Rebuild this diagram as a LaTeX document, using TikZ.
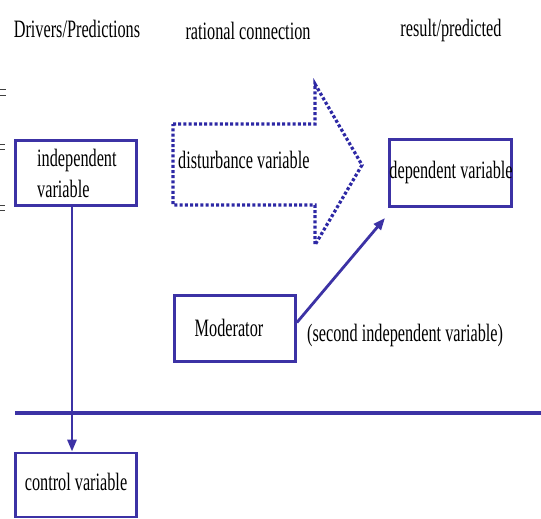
\documentclass[tikz,border=0pt]{standalone}
\usepackage{fontspec}
\setmainfont{Liberation Serif}[FakeStretch=0.65]
\usetikzlibrary{arrows.meta}
\definecolor{mainblue}{RGB}{60,50,165}
\definecolor{dotblue}{RGB}{45,40,165}
\tikzset{
  box/.style={draw=mainblue, line width=2.8pt, fill=white, inner sep=0pt},
  lbl/.style={inner sep=0pt, font=\fontsize{25}{29}\selectfont, text=black},
  conn/.style={draw=mainblue, line width=2.8pt},
  tipA/.style={-{Triangle[length=12pt,width=9pt]}},
  dotarrow/.style={draw=dotblue, line width=3.2pt, dash pattern=on 3pt off 2.2pt},
  artifact/.style={draw=black!75, line width=1pt}
}
\begin{document}
\begin{tikzpicture}[x=1pt,y=-1pt]
\useasboundingbox (0,0) rectangle (541,519);
\fill[white] (0,0) rectangle (541,519);

% small marks at the left edge
\draw[artifact] (0,90) -- (6,90) (0,95) -- (6,95);
\draw[artifact] (0,144) -- (5,144) (0,149) -- (5,149);
\draw[artifact] (0,205) -- (5,205) (0,210) -- (5,210);

% headers
\node[lbl, anchor=base] (h1) at (77,38) {Drivers/Predictions};
\node[lbl, anchor=base] (h2) at (248,40) {rational connection};
\node[lbl, anchor=base] (h3) at (451,37) {result/predicted};

% horizontal line
\coordinate (hl) at (15,413);
\coordinate (hr) at (541,413);
\draw[conn, line width=4.2pt] (hl) -- (hr);

% boxes
\node[box, minimum width=121pt, minimum height=65pt] (indep) at (76,173) {};
\node[box, minimum width=121pt, minimum height=64pt] (ctrl) at (76,485) {};
\node[box, minimum width=122pt, minimum height=67pt] (dep) at (450.5,173) {};
\node[box, minimum width=121pt, minimum height=66pt] (mod) at (235,328.5) {};

% dotted block arrow
\draw[dotarrow] (173,124) -- (315,124) -- (315,84) -- (362,165) -- (315,245) -- (315,205) -- (173,205) -- cycle;

% texts
\node[lbl, anchor=base west] (t1) at (37,166) {independent};
\node[lbl, anchor=base west] (t2) at (37,197) {variable};
\node[lbl, anchor=base] (t3) at (76,490) {control variable};
\node[lbl, anchor=base] (t4) at (451,178) {dependent variable};
\node[lbl, anchor=base west] (t5) at (178,168) {disturbance variable};
\node[lbl, anchor=base] (t6) at (229,336) {Moderator};
\node[lbl, anchor=base west] (t7) at (307,341) {(second independent variable)};

% connectors
\coordinate (mtip) at (385,218);
\draw[conn, tipA] ([xshift=-4pt]indep.south) -- ([xshift=-4pt]ctrl.north);
\draw[conn, tipA] ([yshift=6pt]mod.east) -- (mtip);
\end{tikzpicture}
\end{document}
